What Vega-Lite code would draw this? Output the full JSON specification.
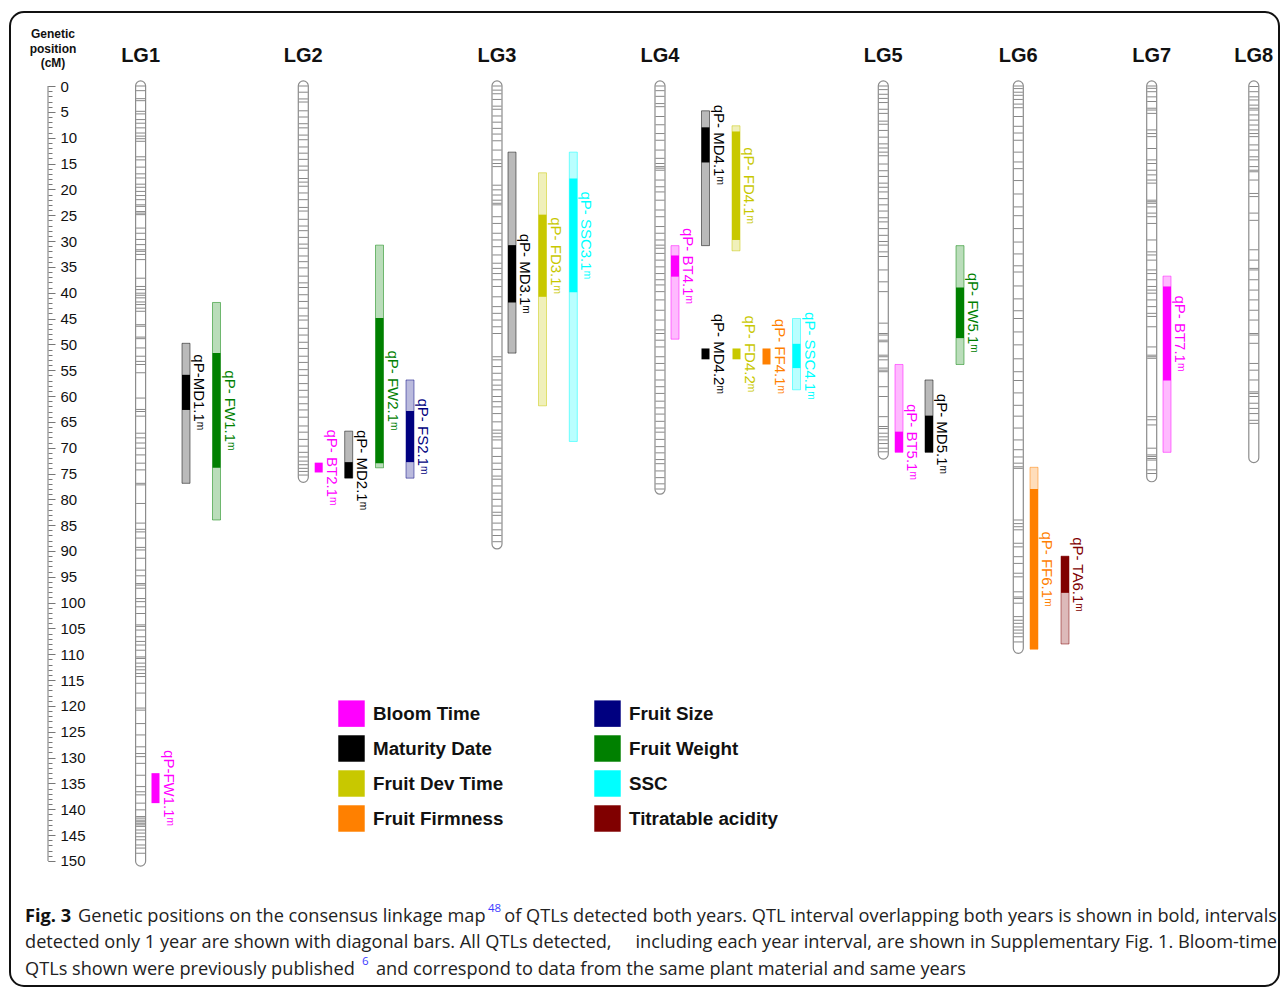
{
  "$schema": "https://vega.github.io/schema/vega-lite/v6.json",
  "width": 1269,
  "height": 974,
  "padding": {"left": 10, "top": 12, "right": 3, "bottom": 3},
  "autosize": {"type": "none"},
  "background": "white",
  "datasets": {
    "chrom": [
      {"lg": "LG1", "track": 130.6, "top": -1, "bottom": 151},
      {"lg": "LG2", "track": 293.3, "top": -1, "bottom": 76.7},
      {"lg": "LG3", "track": 487, "top": -1, "bottom": 89.6},
      {"lg": "LG4", "track": 650, "top": -1, "bottom": 79},
      {"lg": "LG5", "track": 873.3, "top": -1, "bottom": 72.2},
      {"lg": "LG6", "track": 1008.3, "top": -1, "bottom": 109.8},
      {"lg": "LG7", "track": 1141.7, "top": -1, "bottom": 76.6},
      {"lg": "LG8", "track": 1243.8, "top": -1, "bottom": 72.9}
    ],
    "markers": [
      {"lg": "LG1", "cms": [0, 0.9, 2.45, 2.84, 4.9, 5.4, 6.5, 7.2, 8.1, 9.1, 9.7, 10.2, 10.7, 13.7, 14.3, 15.7, 17.0, 17.8, 19.0, 19.6, 20.4, 21.2, 22.0, 23.0, 23.3, 24.3, 24.6, 24.9, 27.5, 28.5, 29.7, 30.7, 31.7, 32.0, 32.6, 33.6, 37.2, 38.8, 39.4, 40.1, 40.5, 41.0, 41.8, 42.3, 43.0, 43.6, 46.2, 46.5, 48.6, 48.9, 50.7, 52.3, 53.3, 53.9, 55.5, 60.4, 62.6, 63.0, 63.9, 67.2, 68.1, 69.1, 70.1, 71.4, 73.0, 74.3, 76.9, 77.2, 80.8, 84.6, 85.8, 86.3, 87.5, 89.3, 89.8, 91.4, 93.7, 94.8, 96.3, 96.6, 97.2, 99.2, 99.8, 100.8, 102.1, 104.3, 104.6, 105.3, 106.6, 107.5, 108.2, 109.2, 110.5, 110.8, 111.7, 112.4, 113.0, 113.7, 114.3, 115.6, 117.5, 120.4, 120.8, 123.4, 125.6, 127.9, 129.2, 129.8, 131.1, 133.4, 135.6, 136.6, 137.2, 138.8, 140.1, 141.4, 141.7, 142.1, 142.4, 142.7, 143.0, 143.3, 144.0, 144.6, 145.3, 145.9, 146.9, 147.5, 148.5]},
      {"lg": "LG2", "cms": [0, 1.2, 2.5, 3.1, 4.8, 6.0, 7.3, 8.1, 9.5, 10.4, 11.8, 13.0, 14.2, 15.5, 16.3, 17.9, 18.6, 19.4, 20.7, 22.0, 23.5, 24.2, 25.8, 27.1, 28.0, 29.3, 30.6, 31.4, 32.9, 34.0, 35.2, 36.8, 38.1, 39.0, 40.4, 41.7, 43.0, 44.5, 45.3, 46.9, 48.2, 49.6, 50.8, 52.3, 53.5, 54.9, 56.0, 57.6, 58.9, 60.2, 61.5, 62.7, 64.1, 65.8, 67.0, 68.4, 69.7, 70.9, 71.8, 72.6, 73.3, 74.0, 74.6, 75.3]},
      {"lg": "LG3", "cms": [0, 0.8, 1.5, 2.6, 3.9, 4.5, 5.8, 7.0, 8.2, 9.3, 10.6, 12.4, 14.3, 15.0, 15.6, 19.2, 20.1, 21.1, 22.1, 22.7, 23.0, 25.3, 26.6, 28.5, 29.8, 31.1, 32.7, 34.3, 35.3, 36.3, 37.5, 38.8, 40.8, 42.7, 44.0, 45.3, 46.6, 47.9, 52.4, 53.0, 54.3, 55.6, 56.9, 57.9, 58.8, 60.1, 61.1, 62.1, 63.4, 65.0, 66.6, 67.2, 67.9, 68.5, 70.1, 71.7, 73.0, 74.2, 75.5, 76.1, 77.4, 78.8, 80.0, 81.3, 82.5, 83.1, 84.6, 85.9, 87.0, 88.2]},
      {"lg": "LG4", "cms": [0, 0.9, 2.0, 3.4, 4.0, 5.9, 7.5, 9.2, 10.5, 12.4, 14.0, 15.0, 15.6, 15.9, 16.3, 18.2, 19.5, 20.5, 22.1, 24.0, 25.3, 27.2, 28.5, 29.8, 30.8, 31.4, 32.4, 33.7, 35.0, 36.3, 37.5, 38.5, 39.8, 41.4, 43.4, 45.3, 47.2, 47.9, 49.2, 50.5, 52.4, 53.7, 55.0, 56.9, 58.2, 59.5, 61.0, 62.3, 63.5, 64.9, 66.2, 67.0, 68.4, 69.8, 71.0, 72.3, 73.1, 74.5, 75.8, 77.0, 78.0]},
      {"lg": "LG5", "cms": [0, 0.7, 1.6, 2.4, 3.2, 4.5, 5.3, 6.8, 7.4, 8.6, 9.9, 11.2, 12.0, 12.8, 13.5, 15.1, 16.4, 17.5, 18.8, 19.6, 20.5, 21.8, 23.0, 24.2, 25.5, 26.3, 27.6, 28.9, 30.1, 30.8, 32.1, 33.0, 35.6, 37.9, 39.8, 45.9, 47.9, 48.2, 49.2, 49.5, 52.1, 52.4, 53.0, 54.6, 55.0, 55.3, 58.2, 60.1, 64.0, 65.9, 66.3, 67.2, 67.9, 68.5, 69.2, 70.1, 70.8]},
      {"lg": "LG6", "cms": [0, 0.5, 1.2, 1.8, 2.6, 3.5, 4.2, 5.9, 7.8, 9.1, 10.5, 12.8, 14.7, 16.0, 18.3, 20.9, 23.4, 25.1, 27.6, 30.2, 32.5, 34.8, 36.0, 38.7, 41.2, 43.5, 45.0, 47.6, 50.1, 52.8, 55.3, 57.0, 59.4, 61.8, 63.9, 66.2, 68.5, 70.4, 71.8, 73.0, 73.7, 74.0, 84.0, 84.7, 85.3, 85.9, 88.5, 89.2, 91.1, 92.4, 94.3, 95.0, 97.9, 98.9, 99.2, 100.1, 102.7, 103.4, 104.0, 104.7, 105.3, 105.9, 106.6, 107.6]},
      {"lg": "LG7", "cms": [0, 0.45, 1.1, 2.1, 3.0, 4.3, 4.65, 5.3, 8.5, 9.2, 9.8, 12.1, 14.3, 15.0, 16.3, 17.2, 18.2, 18.8, 22.1, 22.4, 22.7, 23.4, 24.6, 25.3, 26.6, 29.8, 32.1, 32.7, 33.7, 35.6, 36.3, 37.5, 38.8, 39.5, 40.1, 41.4, 42.7, 44.0, 44.6, 46.6, 50.5, 52.1, 52.4, 52.7, 64.0, 64.6, 65.6, 70.1, 71.4, 71.7, 72.1, 72.4, 74.3, 75.0]},
      {"lg": "LG8", "cms": [0.1, 1.1, 2.1, 2.7, 3.7, 4.3, 4.65, 5.6, 6.6, 7.55, 8.5, 9.2, 9.8, 11.4, 12.4, 13.7, 14.3, 15.6, 16.3, 16.6, 18.2, 20.8, 21.4, 24.6, 26.0, 31.7, 33.7, 35.3, 35.6, 37.5, 39.5, 41.4, 43.4, 45.3, 47.9, 48.2, 49.8, 53.7, 55.0, 56.9, 59.2, 59.5, 60.1, 61.4, 62.4, 63.4, 64.7, 65.3]}
    ],
    "qtl": [
      {"label": "qP-MD1.1ᵐ", "trait": "Maturity Date", "track": 176, "h1": 49.8, "h2": 76.9, "s1": 55.9, "s2": 62.7},
      {"label": "qP- FW1.1ᵐ", "trait": "Fruit Weight", "track": 206.5, "h1": 41.9, "h2": 84.0, "s1": 51.7, "s2": 73.9},
      {"label": "qP-FW1.1ᵐ", "trait": "Bloom Time", "track": 145.5, "h1": null, "h2": null, "s1": 133.0, "s2": 138.8},
      {"label": "qP- BT2.1ᵐ", "trait": "Bloom Time", "track": 308.7, "h1": null, "h2": null, "s1": 72.9, "s2": 74.8},
      {"label": "qP- MD2.1ᵐ", "trait": "Maturity Date", "track": 338.7, "h1": 66.8, "h2": 75.9, "s1": 72.8, "s2": 75.9},
      {"label": "qP- FW2.1ᵐ", "trait": "Fruit Weight", "track": 369.5, "h1": 30.8, "h2": 73.9, "s1": 44.9, "s2": 73.0},
      {"label": "qP- FS2.1ᵐ", "trait": "Fruit Size", "track": 400, "h1": 56.9, "h2": 75.9, "s1": 62.9, "s2": 72.8},
      {"label": "qP- MD3.1ᵐ", "trait": "Maturity Date", "track": 502, "h1": 12.8, "h2": 51.7, "s1": 30.8, "s2": 41.9},
      {"label": "qP- FD3.1ᵐ", "trait": "Fruit Dev Time", "track": 532.5, "h1": 16.8, "h2": 61.9, "s1": 24.9, "s2": 40.8},
      {"label": "qP- SSC3.1ᵐ", "trait": "SSC", "track": 563.3, "h1": 12.8, "h2": 68.8, "s1": 17.9, "s2": 39.9},
      {"label": "qP- MD4.1ᵐ", "trait": "Maturity Date", "track": 695.5, "h1": 4.8, "h2": 30.9, "s1": 8.0, "s2": 14.8},
      {"label": "qP- FD4.1ᵐ", "trait": "Fruit Dev Time", "track": 726, "h1": 7.7, "h2": 31.9, "s1": 8.8, "s2": 29.8},
      {"label": "qP- BT4.1ᵐ", "trait": "Bloom Time", "track": 665, "h1": 30.9, "h2": 49.0, "s1": 32.8, "s2": 36.9},
      {"label": "qP- MD4.2ᵐ", "trait": "Maturity Date", "track": 695.5, "h1": null, "h2": null, "s1": 50.8, "s2": 52.9},
      {"label": "qP- FD4.2ᵐ", "trait": "Fruit Dev Time", "track": 726.5, "h1": null, "h2": null, "s1": 50.8, "s2": 52.9},
      {"label": "qP- FF4.1ᵐ", "trait": "Fruit Firmness", "track": 756.5, "h1": null, "h2": null, "s1": 50.8, "s2": 53.9},
      {"label": "qP- SSC4.1ᵐ", "trait": "SSC", "track": 786.5, "h1": 45.0, "h2": 58.8, "s1": 49.9, "s2": 54.6},
      {"label": "qP- FW5.1ᵐ", "trait": "Fruit Weight", "track": 950, "h1": 30.9, "h2": 53.9, "s1": 39.0, "s2": 48.8},
      {"label": "qP- BT5.1ᵐ", "trait": "Bloom Time", "track": 889, "h1": 53.9, "h2": 70.9, "s1": 66.9, "s2": 70.9},
      {"label": "qP- MD5.1ᵐ", "trait": "Maturity Date", "track": 919, "h1": 56.9, "h2": 70.9, "s1": 63.8, "s2": 70.9},
      {"label": "qP- FF6.1ᵐ", "trait": "Fruit Firmness", "track": 1024, "h1": 73.8, "h2": 109.0, "s1": 78.0, "s2": 109.0},
      {"label": "qP- TA6.1ᵐ", "trait": "Titratable acidity", "track": 1055, "h1": 91.0, "h2": 108.0, "s1": 91.0, "s2": 98.1},
      {"label": "qP- BT7.1ᵐ", "trait": "Bloom Time", "track": 1157, "h1": 36.8, "h2": 70.9, "s1": 38.8, "s2": 57.0}
    ],
    "capBold": [{"txt": "Fig. 3", "track": 15, "cm": 160.84}],
    "capLeft": [
      {"txt": "Genetic positions on the consensus linkage map", "track": 68, "cm": 160.84},
      {"txt": "detected only 1 year are shown with diagonal bars. All QTLs detected,", "track": 15, "cm": 165.87},
      {"txt": "QTLs shown were previously published", "track": 15, "cm": 171.1},
      {"txt": "and correspond to data from the same plant material and same years", "track": 366, "cm": 171.1}
    ],
    "capRight": [
      {"txt": "of QTLs detected both years. QTL interval overlapping both years is shown in bold, intervals", "track": 1267, "cm": 160.84},
      {"txt": "including each year interval, are shown in Supplementary Fig. 1. Bloom-time", "track": 1267, "cm": 165.87}
    ],
    "capSup": [
      {"txt": "48", "track": 478, "cm": 159.3},
      {"txt": "6", "track": 352, "cm": 169.6}
    ]
  },
  "layer": [
    {
      "data": {"values": [{}]},
      "mark": {"type": "rule", "color": "#777777", "strokeWidth": 1},
      "encoding": {
        "x": {"datum": 38, "type": "quantitative", "scale": {"domain": [0, 1269], "nice": false, "zero": false, "padding": 0}, "axis": null},
        "y": {"datum": 0, "type": "quantitative", "scale": {"domain": [-14.323, 174.194], "nice": false, "zero": false, "reverse": true},
          "axis": {"orient": "right", "offset": -1231, "domain": false, "grid": false, "labels": false, "title": null, "tickSize": 4, "tickColor": "#777777", "tickWidth": 1,
            "values": [0,1,2,3,4,5,6,7,8,9,10,11,12,13,14,15,16,17,18,19,20,21,22,23,24,25,26,27,28,29,30,31,32,33,34,35,36,37,38,39,40,41,42,43,44,45,46,47,48,49,50,51,52,53,54,55,56,57,58,59,60,61,62,63,64,65,66,67,68,69,70,71,72,73,74,75,76,77,78,79,80,81,82,83,84,85,86,87,88,89,90,91,92,93,94,95,96,97,98,99,100,101,102,103,104,105,106,107,108,109,110,111,112,113,114,115,116,117,118,119,120,121,122,123,124,125,126,127,128,129,130,131,132,133,134,135,136,137,138,139,140,141,142,143,144,145,146,147,148,149,150]}},
        "y2": {"datum": 150}
      }
    },
    {
      "data": {"name": "chrom"},
      "mark": {"type": "bar", "size": 10, "cornerRadius": 5, "fill": "white", "stroke": "#8c8c8c", "strokeWidth": 1.2},
      "encoding": {
        "x": {"field": "track", "type": "quantitative", "scale": {"domain": [0, 1269], "nice": false, "zero": false, "padding": 0}, "axis": null},
        "y": {"field": "top", "type": "quantitative", "scale": {"domain": [-14.323, 174.194], "nice": false, "zero": false, "reverse": true},
          "axis": {"orient": "right", "offset": -1231, "domain": false, "grid": false, "title": null, "tickSize": 7, "tickColor": "#777777", "tickWidth": 1,
            "labelFont": "Liberation Sans", "labelFontSize": 15, "labelColor": "#111111", "labelPadding": 5, "labelFlush": false, "labelOverlap": false,
            "values": [0,5,10,15,20,25,30,35,40,45,50,55,60,65,70,75,80,85,90,95,100,105,110,115,120,125,130,135,140,145,150]}},
        "y2": {"field": "bottom"}
      }
    },
    {
      "data": {"name": "markers"},
      "transform": [
        {"flatten": ["cms"]},
        {"lookup": "lg", "from": {"data": {"name": "chrom"}, "key": "lg", "fields": ["track"]}}
      ],
      "mark": {"type": "tick", "orient": "horizontal", "size": 9, "thickness": 1, "color": "#7a7a7a", "opacity": 0.9},
      "encoding": {
        "x": {"field": "track", "type": "quantitative", "scale": {"domain": [0, 1269], "nice": false, "zero": false, "padding": 0}, "axis": null},
        "y": {"field": "cms", "type": "quantitative", "scale": {"domain": [-14.323, 174.194], "nice": false, "zero": false, "reverse": true}, "axis": null}
      }
    },
    {
      "data": {"name": "qtl"},
      "mark": {"type": "bar", "size": 8},
      "encoding": {
        "x": {"field": "track", "type": "quantitative", "scale": {"domain": [0, 1269], "nice": false, "zero": false, "padding": 0}, "axis": null},
        "y": {"field": "s1", "type": "quantitative", "scale": {"domain": [-14.323, 174.194], "nice": false, "zero": false, "reverse": true}, "axis": null},
        "y2": {"field": "s2"},
        "color": {"field": "trait", "type": "nominal",
          "scale": {"domain": ["Bloom Time", "Maturity Date", "Fruit Dev Time", "Fruit Firmness", "Fruit Size", "Fruit Weight", "SSC", "Titratable acidity"],
                    "range": ["#ff00ff", "#000000", "#c8c800", "#ff8000", "#000080", "#008000", "#00ffff", "#800000"]},
          "legend": {"orient": "none", "legendX": 328, "legendY": 688, "columns": 2, "direction": "vertical", "title": null, "padding": 0,
            "symbolType": "square", "symbolSize": 700, "symbolStrokeWidth": 0, "symbolOpacity": 1,
            "labelFont": "Liberation Sans", "labelFontSize": 18.8, "labelFontWeight": "bold", "labelColor": "#111111", "labelLimit": 400,
            "labelOffset": 8, "rowPadding": 8, "columnPadding": 90}}
      }
    },
    {
      "data": {"name": "qtl"},
      "transform": [{"filter": "datum.h1 != null"}],
      "mark": {"type": "bar", "size": 8, "fillOpacity": 0.27},
      "encoding": {
        "x": {"field": "track", "type": "quantitative", "scale": {"domain": [0, 1269], "nice": false, "zero": false, "padding": 0}, "axis": null},
        "y": {"field": "h1", "type": "quantitative", "scale": {"domain": [-14.323, 174.194], "nice": false, "zero": false, "reverse": true}, "axis": null},
        "y2": {"field": "h2"},
        "color": {"field": "trait", "type": "nominal"}
      }
    },
    {
      "data": {"name": "qtl"},
      "transform": [{"filter": "datum.h1 != null"}],
      "mark": {"type": "bar", "size": 8, "filled": false, "strokeWidth": 1, "strokeOpacity": 0.5},
      "encoding": {
        "x": {"field": "track", "type": "quantitative", "scale": {"domain": [0, 1269], "nice": false, "zero": false, "padding": 0}, "axis": null},
        "y": {"field": "h1", "type": "quantitative", "scale": {"domain": [-14.323, 174.194], "nice": false, "zero": false, "reverse": true}, "axis": null},
        "y2": {"field": "h2"},
        "color": {"field": "trait", "type": "nominal"}
      }
    },
    {
      "data": {"name": "qtl"},
      "transform": [{"calculate": "(datum.s1 + datum.s2) / 2", "as": "mid"}],
      "mark": {"type": "text", "angle": 90, "align": "center", "baseline": "bottom", "dy": -5, "font": "Liberation Sans", "fontSize": 15},
      "encoding": {
        "x": {"field": "track", "type": "quantitative", "scale": {"domain": [0, 1269], "nice": false, "zero": false, "padding": 0}, "axis": null},
        "y": {"field": "mid", "type": "quantitative", "scale": {"domain": [-14.323, 174.194], "nice": false, "zero": false, "reverse": true}, "axis": null},
        "text": {"field": "label"},
        "color": {"field": "trait", "type": "nominal"}
      }
    },
    {
      "data": {"name": "chrom"},
      "mark": {"type": "text", "font": "Liberation Sans", "fontSize": 20, "fontWeight": "bold", "align": "center", "baseline": "middle", "color": "#111111"},
      "encoding": {
        "x": {"field": "track", "type": "quantitative", "scale": {"domain": [0, 1269], "nice": false, "zero": false, "padding": 0}, "axis": null},
        "y": {"datum": -5.9, "type": "quantitative", "scale": {"domain": [-14.323, 174.194], "nice": false, "zero": false, "reverse": true}, "axis": null},
        "text": {"field": "lg"}
      }
    },
    {
      "data": {"values": [{"txt": "Genetic\nposition\n(cM)"}]},
      "mark": {"type": "text", "font": "Liberation Sans", "fontSize": 12, "fontWeight": "bold", "align": "center", "baseline": "top", "lineBreak": "\n", "lineHeight": 14.5, "color": "#111111"},
      "encoding": {
        "x": {"datum": 43, "type": "quantitative", "scale": {"domain": [0, 1269], "nice": false, "zero": false, "padding": 0}, "axis": null},
        "y": {"datum": -11.0, "type": "quantitative", "scale": {"domain": [-14.323, 174.194], "nice": false, "zero": false, "reverse": true}, "axis": null},
        "text": {"field": "txt"}
      }
    },
    {
      "data": {"name": "capBold"},
      "mark": {"type": "text", "font": "Open Sans", "fontSize": 18.2, "fontWeight": "bold", "align": "left", "baseline": "middle", "color": "#111111"},
      "encoding": {
        "x": {"field": "track", "type": "quantitative", "scale": {"domain": [0, 1269], "nice": false, "zero": false, "padding": 0}, "axis": null},
        "y": {"field": "cm", "type": "quantitative", "scale": {"domain": [-14.323, 174.194], "nice": false, "zero": false, "reverse": true}, "axis": null},
        "text": {"field": "txt"}
      }
    },
    {
      "data": {"name": "capLeft"},
      "mark": {"type": "text", "font": "Open Sans", "fontSize": 18.2, "align": "left", "baseline": "middle", "color": "#222222"},
      "encoding": {
        "x": {"field": "track", "type": "quantitative", "scale": {"domain": [0, 1269], "nice": false, "zero": false, "padding": 0}, "axis": null},
        "y": {"field": "cm", "type": "quantitative", "scale": {"domain": [-14.323, 174.194], "nice": false, "zero": false, "reverse": true}, "axis": null},
        "text": {"field": "txt"}
      }
    },
    {
      "data": {"name": "capRight"},
      "mark": {"type": "text", "font": "Open Sans", "fontSize": 18.2, "align": "right", "baseline": "middle", "color": "#222222"},
      "encoding": {
        "x": {"field": "track", "type": "quantitative", "scale": {"domain": [0, 1269], "nice": false, "zero": false, "padding": 0}, "axis": null},
        "y": {"field": "cm", "type": "quantitative", "scale": {"domain": [-14.323, 174.194], "nice": false, "zero": false, "reverse": true}, "axis": null},
        "text": {"field": "txt"}
      }
    },
    {
      "data": {"name": "capSup"},
      "mark": {"type": "text", "font": "Open Sans", "fontSize": 11.5, "align": "left", "baseline": "middle", "color": "#3b3bff"},
      "encoding": {
        "x": {"field": "track", "type": "quantitative", "scale": {"domain": [0, 1269], "nice": false, "zero": false, "padding": 0}, "axis": null},
        "y": {"field": "cm", "type": "quantitative", "scale": {"domain": [-14.323, 174.194], "nice": false, "zero": false, "reverse": true}, "axis": null},
        "text": {"field": "txt"}
      }
    }
  ],
  "resolve": {"axis": {"y": "independent"}},
  "config": {
    "view": {"stroke": "#111111", "strokeWidth": 2, "cornerRadius": 14, "fill": "white"},
    "axis": {"labelFont": "Liberation Sans"}
  }
}
